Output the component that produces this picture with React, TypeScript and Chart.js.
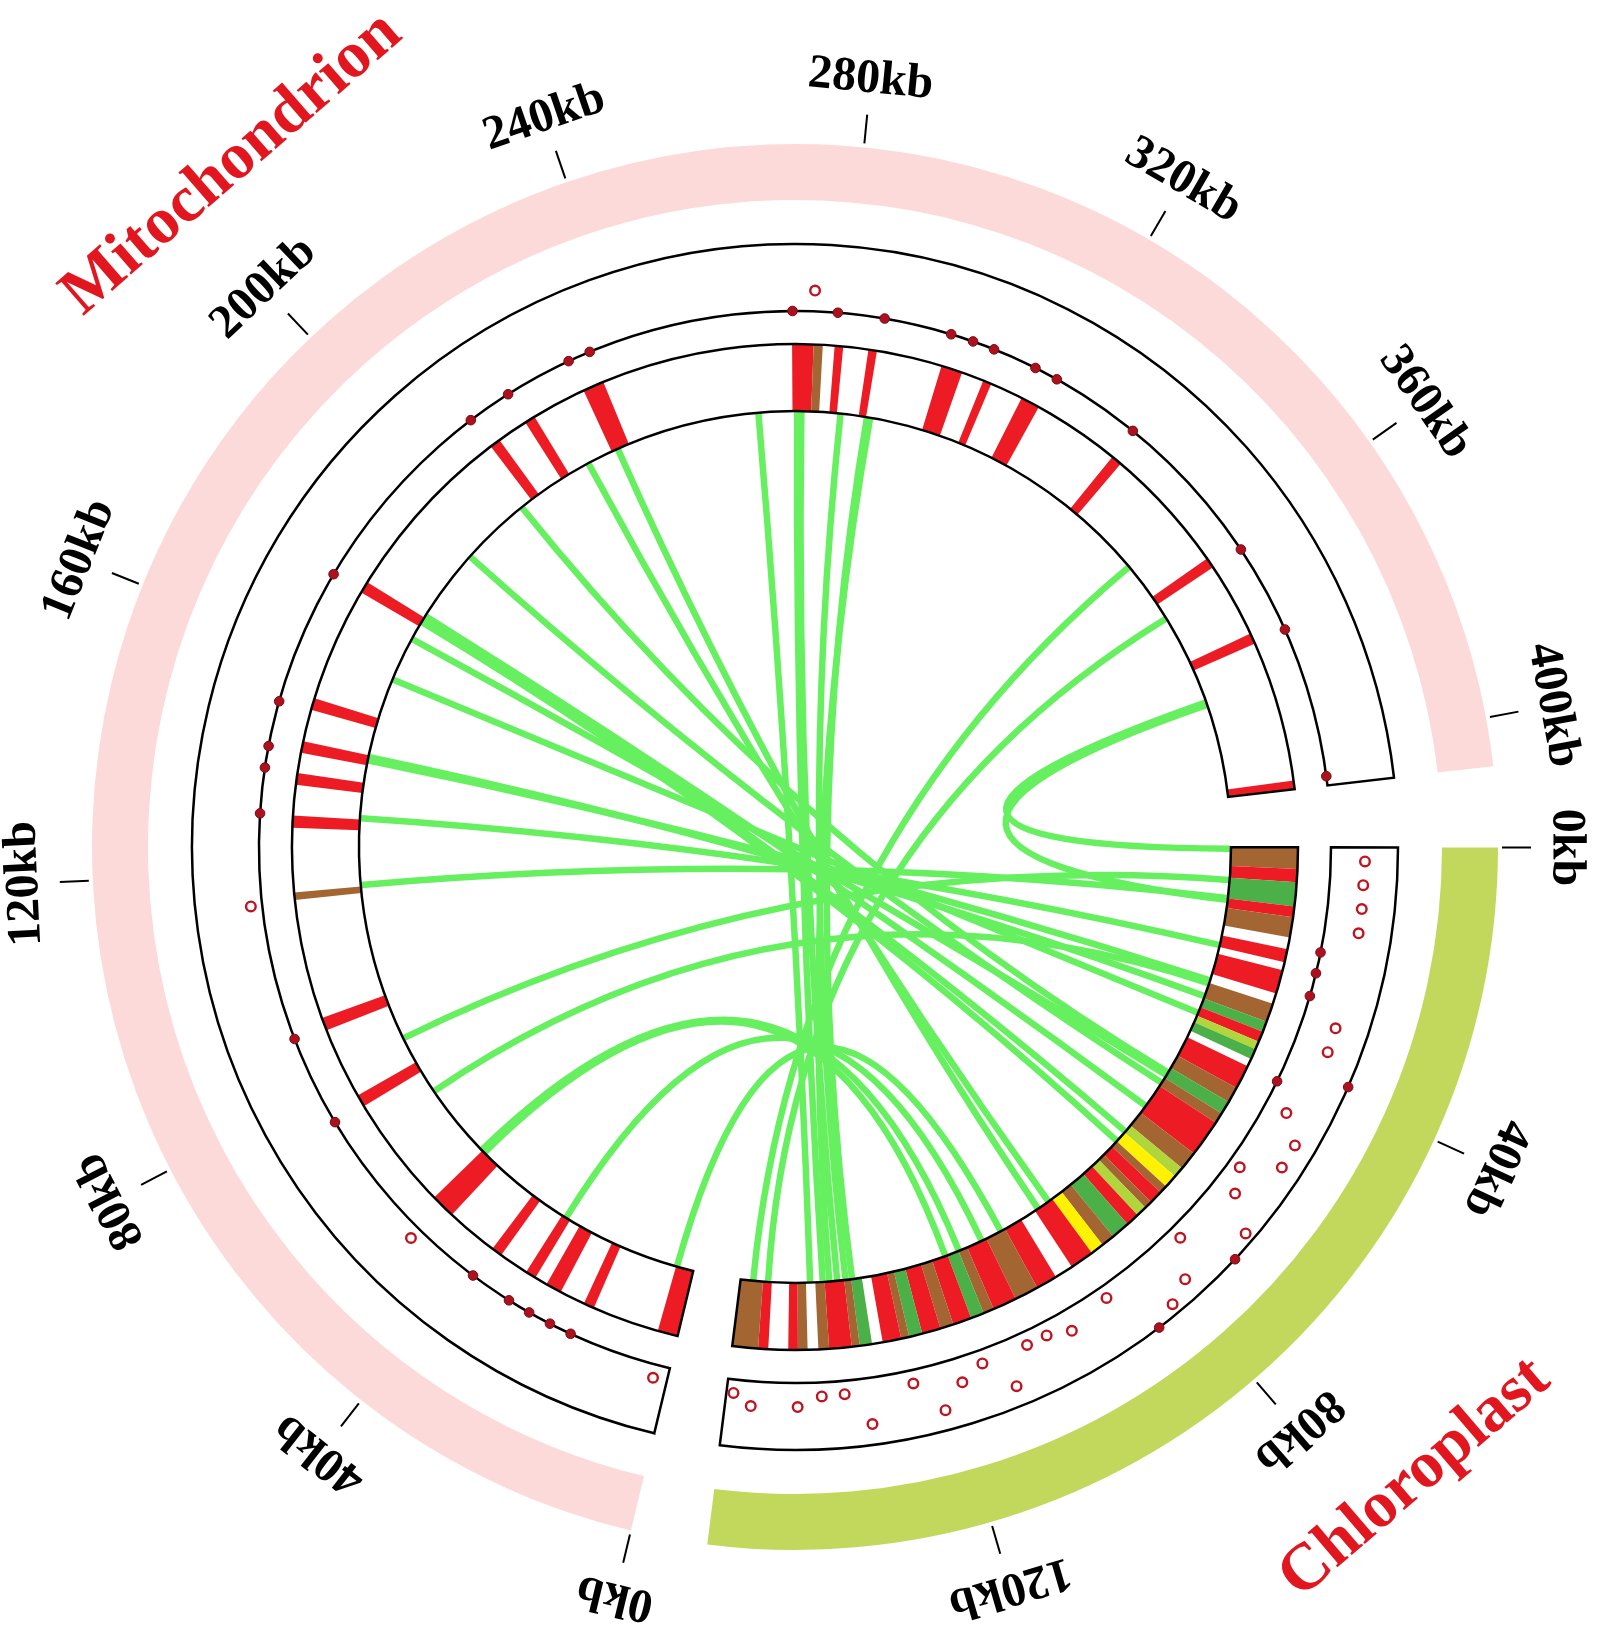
import React, { useEffect, useRef } from 'react';
import { Chart, registerables } from 'chart.js';

Chart.register(...registerables);

// ---------------- data ----------------
const genomeNames = ['Mitochondrion', 'Chloroplast'];
const genomeLengthsKb = [406.5, 158];
const gapAfterKb = [10.8, 10.3];
const startRotationDeg = 193.5;
const genomeLabelKb = [206.6, 74.0];
const genomeLabelRotationDeg = [-41, -40.5];

const mitoTicksKb = [0, 40, 80, 120, 160, 200, 240, 280, 320, 360, 400];
const chloroTicksKb = [0, 40, 80, 120];

// [startKb, endKb, colour key]
const mitoHighlights: [number, number, string][] = [
  [0, 3.8, 'red'], [16.4, 18.4, 'red'], [23.2, 26.2, 'red'], [28.6, 30.6, 'red'],
  [36.2, 38.2, 'red'], [48, 52.6, 'red'], [74, 76.3, 'red'], [89.7, 92.1, 'red'],
  [114.6, 116, 'brown'], [128, 130.3, 'red'], [136, 138.2, 'red'], [142, 144.2, 'red'],
  [150.2, 152.4, 'red'], [173.9, 176.1, 'red'], [210.3, 212.3, 'red'], [218.1, 220.1, 'red'],
  [230.4, 234.4, 'red'], [270.3, 274.3, 'red'], [274.3, 276, 'brown'], [278.2, 279.8, 'red'],
  [284.5, 286.1, 'red'], [298.4, 302.4, 'red'], [306.6, 308.2, 'red'], [314.4, 318, 'red'],
  [334.5, 336.5, 'red'], [360.3, 362.3, 'red'], [376.4, 378.4, 'red'], [404.9, 406.5, 'red'],
];

const chloroHighlights: [number, number, string][] = [
  [0, 4, 'brown'], [4, 6.5, 'red'], [6.5, 11, 'green'], [11, 13, 'red'], [13, 16.8, 'brown'],
  [19, 21.5, 'red'], [23, 27.5, 'red'],
  [29.5, 33, 'brown'], [33, 35, 'green'], [35, 37, 'red'], [37, 38.5, 'yellowgreen'], [38.5, 40.5, 'green'],
  [42, 46.5, 'red'], [46.5, 49.5, 'brown'], [49.5, 52, 'green'], [52, 54, 'brown'], [54, 61, 'red'],
  [61, 64.5, 'brown'], [64.5, 66.5, 'yellowgreen'], [66.5, 69, 'yellow'], [69, 70.5, 'brown'],
  [70.5, 73, 'red'], [73, 74.5, 'brown'], [74.5, 76.5, 'yellowgreen'], [76.5, 79, 'red'],
  [79, 82.5, 'green'], [82.5, 85, 'brown'], [85, 87.5, 'yellow'], [87.5, 92, 'red'],
  [95.5, 99.5, 'red'], [99.5, 104, 'brown'], [104, 108.5, 'red'], [108.5, 110.5, 'brown'],
  [110.5, 113, 'green'], [113, 116.5, 'red'], [116.5, 119, 'brown'], [119, 122.5, 'red'],
  [122.5, 125, 'green'], [125, 126.5, 'brown'], [126.5, 130, 'red'], [132, 134.3, 'green'],
  [134.3, 135.8, 'brown'], [135.8, 140, 'red'], [140, 142, 'brown'], [144, 145.8, 'brown'],
  [145.8, 147.6, 'red'], [151.3, 153.2, 'red'], [153.2, 158, 'brown'],
];

// [kb, value 0..1 across the track, hollow (1) / filled (0)]
const mitoDots: [number, number, number][] = [
  [2.4, 0.2, 1], [18.3, 0, 0], [22.3, 0, 0], [26.4, 0, 0], [30.5, 0, 0], [38.1, 0, 0],
  [50.4, 0.18, 1], [74.2, 0, 0], [90.3, 0, 0], [114.3, 0.17, 1], [130.3, 0, 0], [138.3, 0, 0],
  [142.1, 0, 0], [150.1, 0, 0], [174.2, 0, 0], [210.3, 0, 0], [218.2, 0, 0], [230.2, 0, 0],
  [234.2, 0, 0], [270.4, 0, 0], [274.2, 0.31, 1], [278.3, 0, 0], [286.5, 0, 0], [298.4, 0, 0],
  [302.4, 0, 0], [306.3, 0, 0], [314.2, 0, 0], [318.4, 0, 0], [334.4, 0, 0], [362.4, 0, 0],
  [378.3, 0, 0], [404.9, 0, 0],
];

const chloroDots: [number, number, number][] = [
  [2.3, 0.51, 1], [6.2, 0.5, 1], [10.1, 0.51, 1], [14.1, 0.51, 1], [18.4, 0, 0], [22.1, 0, 0],
  [26.2, 0, 0], [30.1, 0.51, 1], [34.2, 0.52, 1], [38.1, 1, 0], [42.1, 0, 0], [46.2, 0.34, 1],
  [50.1, 0.69, 1], [54.2, 0.7, 1], [58.1, 0.18, 1], [62.1, 0.36, 1], [66, 0.86, 1], [70.1, 1, 0],
  [73.8, 0.19, 1], [77.9, 0.69, 1], [82, 0.85, 1], [85.9, 1, 0], [90, 0.18, 1], [97.9, 0.32, 1],
  [102, 0.2, 1], [105.7, 0.2, 1], [110, 0.7, 1], [113.9, 0.2, 1], [118.1, 0.37, 1], [122, 0.7, 1],
  [126.1, 0.2, 1], [133.9, 0.69, 1], [137.9, 0.2, 1], [141.8, 0.21, 1], [145.9, 0.36, 1],
  [153.7, 0.37, 1], [156.8, 0.2, 1],
];

// [mitochondrion kb, chloroplast kb]
const links: [number, number][] = [
  [263, 143.1], [271.3, 140.4], [272.2, 137.3], [280.6, 135.5], [286.3, 134.1], [287, 139],
  [231.8, 91.2], [224.8, 88.5], [207.7, 50.6], [192.4, 53.2],
  [176.5, 59.2], [175.8, 66.2], [175, 68.9], [170.8, 51.3],
  [161.2, 36.3], [143.1, 28.9], [143.8, 32.5], [130.6, 21.1], [116.3, 10.9], [82.1, 7],
  [69, 29.6], [52, 113.5], [52.8, 110.4], [29.6, 105.1], [3.6, 100.5],
  [352.2, 155.3], [365.8, 152.1], [385.7, 0.3], [386.3, 11.3],
];

// ---------------- styling ----------------
const genomeColors = ['rgb(252,218,218)', 'rgb(193,216,92)'];
const palette: Record<string, string> = {
  red: 'rgb(237,28,36)',
  brown: 'rgb(163,101,50)',
  green: 'rgb(76,176,72)',
  yellowgreen: 'rgb(176,214,60)',
  yellow: 'rgb(255,242,0)',
};
const linkColor = 'rgb(102,240,96)';
const labelRed = 'rgb(226,22,30)';
const serif = '"Liberation Serif", "Times New Roman", serif';

function buildTrack(hls: [number, number, string][], len: number) {
  const values: number[] = [];
  const colors: string[] = [];
  let pos = 0;
  const sorted = [...hls].sort((a, b) => a[0] - b[0]);
  for (const [s0, e, c] of sorted) {
    const s = Math.max(s0, pos);
    if (s > pos) { values.push(s - pos); colors.push('transparent'); }
    if (e > s) { values.push(e - s); colors.push(palette[c]); }
    pos = Math.max(pos, e);
  }
  if (pos < len) { values.push(len - pos); colors.push('transparent'); }
  return { values, colors };
}

const circosPlugin = {
  id: 'circos',
  afterDatasetsDraw(chart: any) {
    const ctx = chart.ctx as CanvasRenderingContext2D;
    const ideo = chart.getDatasetMeta(0).data as any[];
    const track = chart.getDatasetMeta(2).data as any[];
    const hl = chart.getDatasetMeta(4).data as any[];
    const genomeArcs = [track[0], track[2]];
    const cx = track[0].x;
    const cy = track[0].y;
    const angleAt = (g: number, kb: number) => {
      const a = genomeArcs[g];
      return a.startAngle + (kb / genomeLengthsKb[g]) * (a.endAngle - a.startAngle);
    };
    const px = (a: number, r: number) => cx + r * Math.cos(a);
    const py = (a: number, r: number) => cy + r * Math.sin(a);
    const hlIn = hl[0].innerRadius;
    const hlOut = hl[0].outerRadius;
    const trIn = track[0].innerRadius;
    const trOut = track[0].outerRadius;
    const ideoOut = ideo[0].outerRadius;

    ctx.save();
    // links
    ctx.strokeStyle = linkColor;
    ctx.lineWidth = 6.5;
    ctx.lineCap = 'butt';
    for (const [m, c] of links) {
      const a0 = angleAt(0, m);
      const a1 = angleAt(1, c);
      const r = hlIn - 1;
      ctx.beginPath();
      ctx.moveTo(px(a0, r), py(a0, r));
      ctx.quadraticCurveTo(cx, cy, px(a1, r), py(a1, r));
      ctx.stroke();
    }

    // highlight track outlines
    ctx.strokeStyle = '#000';
    ctx.lineWidth = 2.5;
    ctx.lineJoin = 'miter';
    for (const a of genomeArcs) {
      ctx.beginPath();
      ctx.arc(cx, cy, hlOut, a.startAngle, a.endAngle);
      ctx.arc(cx, cy, hlIn, a.endAngle, a.startAngle, true);
      ctx.closePath();
      ctx.stroke();
    }

    // dots
    const drawDots = (g: number, dots: [number, number, number][]) => {
      for (const [kb, v, hollow] of dots) {
        const a = angleAt(g, kb);
        const r = trIn + v * (trOut - trIn);
        ctx.beginPath();
        ctx.arc(px(a, r), py(a, r), 4.8, 0, Math.PI * 2);
        if (hollow) {
          ctx.fillStyle = '#fff';
          ctx.fill();
          ctx.strokeStyle = 'rgb(190,20,32)';
          ctx.lineWidth = 2.4;
          ctx.stroke();
        } else {
          ctx.fillStyle = 'rgb(172,18,30)';
          ctx.fill();
          ctx.strokeStyle = 'rgb(120,10,20)';
          ctx.lineWidth = 1;
          ctx.stroke();
        }
      }
    };
    drawDots(0, mitoDots);
    drawDots(1, chloroDots);

    // ticks and tick labels
    const tickSets = [mitoTicksKb, chloroTicksKb];
    ctx.fillStyle = '#000';
    ctx.font = `bold 48px ${serif}`;
    ctx.textAlign = 'center';
    ctx.textBaseline = 'middle';
    tickSets.forEach((ticks, g) => {
      for (const kb of ticks) {
        const a = angleAt(g, kb);
        ctx.strokeStyle = '#000';
        ctx.lineWidth = 2;
        ctx.beginPath();
        ctx.moveTo(px(a, ideoOut + 4), py(a, ideoOut + 4));
        ctx.lineTo(px(a, ideoOut + 33), py(a, ideoOut + 33));
        ctx.stroke();
        const rl = ideoOut + 68;
        ctx.save();
        ctx.translate(px(a, rl), py(a, rl));
        ctx.rotate(a + Math.PI / 2);
        ctx.fillText(`${kb}kb`, 0, 0);
        ctx.restore();
      }
    });

    // genome labels
    ctx.font = `bold 66px ${serif}`;
    ctx.fillStyle = labelRed;
    genomeNames.forEach((name, g) => {
      const a = angleAt(g, genomeLabelKb[g]);
      const r = ideoOut + 182;
      ctx.save();
      ctx.translate(px(a, r), py(a, r));
      ctx.rotate((genomeLabelRotationDeg[g] * Math.PI) / 180);
      ctx.fillText(name, 0, 0);
      ctx.restore();
    });
    ctx.restore();
  },
};

export default function App() {
  const ref = useRef<HTMLCanvasElement>(null);
  useEffect(() => {
    const canvas = ref.current;
    if (!canvas) return;
    const m = buildTrack(mitoHighlights, genomeLengthsKb[0]);
    const c = buildTrack(chloroHighlights, genomeLengthsKb[1]);
    const genomeData = [genomeLengthsKb[0], gapAfterKb[0], genomeLengthsKb[1], gapAfterKb[1]];
    const chart = new Chart(canvas, {
      type: 'doughnut',
      data: {
        labels: genomeData.map((_, i) => String(i)),
        datasets: [
          {
            data: genomeData,
            backgroundColor: [genomeColors[0], 'transparent', genomeColors[1], 'transparent'],
            borderWidth: 0,
            weight: 56,
          },
          { data: [1], backgroundColor: ['transparent'], borderWidth: 0, weight: 44 },
          {
            data: genomeData,
            backgroundColor: ['#fff', 'transparent', '#fff', 'transparent'],
            borderColor: '#000',
            borderWidth: [2.5, 0, 2.5, 0],
            borderJoinStyle: 'miter',
            weight: 67,
          },
          { data: [1], backgroundColor: ['transparent'], borderWidth: 0, weight: 33 },
          {
            data: [...m.values, gapAfterKb[0], ...c.values, gapAfterKb[1]],
            backgroundColor: [...m.colors, 'transparent', ...c.colors, 'transparent'],
            borderWidth: 0,
            weight: 67,
          },
        ] as any,
      },
      options: {
        animation: false,
        responsive: false,
        events: [],
        rotation: startRotationDeg,
        circumference: 360,
        radius: 703,
        cutout: '62.02%',
        layout: { padding: { left: 0, right: 11, top: 69, bottom: 0 } },
        plugins: { legend: { display: false }, tooltip: { enabled: false } },
      } as any,
      plugins: [circosPlugin],
    });
    return () => chart.destroy();
  }, []);
  return (
    <div style={{ position: 'fixed', left: 0, top: 0, width: 1601, height: 1625, background: '#fff' }}>
      <canvas ref={ref} width={1601} height={1625} style={{ display: 'block', width: 1601, height: 1625 }} />
    </div>
  );
}
